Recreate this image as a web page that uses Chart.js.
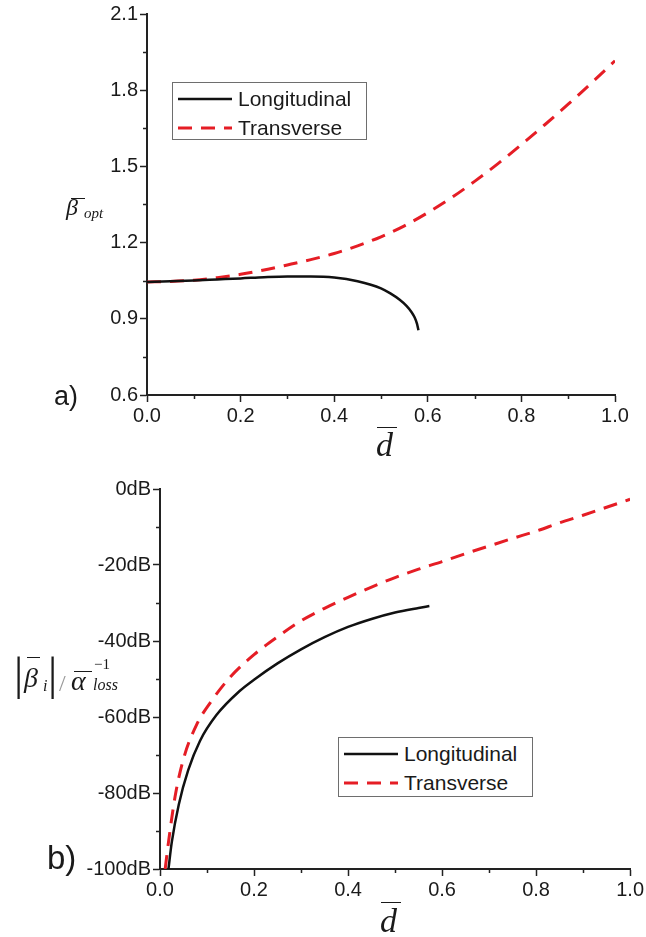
<!DOCTYPE html>
<html>
<head>
<meta charset="utf-8">
<script src="https://cdn.jsdelivr.net/npm/chart.js@4.4.1/dist/chart.umd.min.js"></script>
<style>
  html, body { margin: 0; padding: 0; background: #fff; }
  #page { position: relative; width: 646px; height: 937px; overflow: hidden; font-family: "Liberation Sans", Arial, sans-serif; color: #1a1a1a; }
  canvas { position: absolute; left: 0; }
  .legend { position: absolute; border: 1px solid #6e6e6e; background: #fff; box-sizing: border-box; z-index: 2; }
  .legend .row { position: absolute; left: 0; height: 28px; display: flex; align-items: center; font-size: 21px; white-space: nowrap; }
  .m { position: absolute; font-family: "Liberation Serif", "DejaVu Serif", serif; font-style: italic; line-height: 1; white-space: nowrap; color: #1a1a1a; z-index: 2; }
  .up { font-style: normal; }
  .ovl { position: absolute; height: 0; border-top: 1.6px solid #1a1a1a; z-index: 2; }
  .tag { position: absolute; line-height: 1; color: #1a1a1a; z-index: 2; }
</style>
</head>
<body>
<div id="page">
  <canvas id="chartA" width="646" height="470" style="top:0"></canvas>
  <canvas id="chartB" width="646" height="467" style="top:470px"></canvas>

  <!-- a) y title -->
  <div class="m" style="left:66px;top:195px;font-size:24px">β</div>
  <div class="ovl" style="left:71px;top:198px;width:14px"></div>
  <div class="m" style="left:84px;top:206px;font-size:15px">opt</div>
  <!-- a) x title -->
  <div class="m" style="left:376px;top:428px;font-size:34px">d</div>
  <div class="ovl" style="left:377px;top:427px;width:20px"></div>
  <div class="tag" style="left:54px;top:383px;font-size:27px">a)</div>

  <!-- b) y title -->
  <div class="m up" style="left:14px;top:651px;font-size:46px">|</div>
  <div class="m" style="left:24px;top:664px;font-size:28px">β</div>
  <div class="ovl" style="left:27px;top:657px;width:13px"></div>
  <div class="m" style="left:43px;top:678px;font-size:16px">i</div>
  <div class="m up" style="left:48px;top:651px;font-size:46px">|</div>
  <div class="m up" style="left:59px;top:671px;font-size:24px;color:#999">/</div>
  <div class="m" style="left:71px;top:667px;font-size:28px">α</div>
  <div class="ovl" style="left:74px;top:671px;width:18px"></div>
  <div class="m up" style="left:94px;top:657px;font-size:15px">−1</div>
  <div class="m" style="left:93px;top:677px;font-size:16px">loss</div>
  <!-- b) x title -->
  <div class="m" style="left:380px;top:904px;font-size:34px">d</div>
  <div class="ovl" style="left:381px;top:902px;width:20px"></div>
  <div class="tag" style="left:47px;top:841px;font-size:33px">b)</div>
</div>

<script>
const dTicks = [0, 0.2, 0.4, 0.6, 0.8, 1.0];
const betaTicks = [0.6, 0.9, 1.2, 1.5, 1.8, 2.1];
const dbTicks = [-100, -80, -60, -40, -20, 0];

const seriesNames = ["Longitudinal", "Transverse"];

// a) optimum normalised beta vs d
const aLongD    = [0, 0.05, 0.1, 0.15, 0.2, 0.25, 0.3, 0.35, 0.4, 0.45, 0.5, 0.52, 0.54, 0.555, 0.565, 0.572, 0.577, 0.58];
const aLongBeta = [1.045, 1.048, 1.051, 1.055, 1.059, 1.064, 1.067, 1.067, 1.063, 1.048, 1.02, 1.0, 0.975, 0.95, 0.927, 0.905, 0.88, 0.855];
const aTransD    = [0, 0.05, 0.1, 0.15, 0.2, 0.25, 0.3, 0.35, 0.4, 0.45, 0.5, 0.55, 0.6, 0.65, 0.7, 0.75, 0.8, 0.85, 0.9, 0.95, 1.0];
const aTransBeta = [1.045, 1.047, 1.052, 1.062, 1.075, 1.092, 1.112, 1.133, 1.157, 1.187, 1.223, 1.266, 1.318, 1.376, 1.441, 1.511, 1.586, 1.664, 1.745, 1.829, 1.916];

// b) |beta_i| relative to loss, in dB
const bLongD  = [0.018, 0.025, 0.04, 0.06, 0.085, 0.12, 0.17, 0.2, 0.25, 0.3, 0.35, 0.4, 0.45, 0.5, 0.55, 0.573];
const bLongDb = [-100, -93, -83, -74, -66.3, -59.5, -53.1, -50.2, -45.9, -42.2, -39, -36.3, -34.2, -32.5, -31.3, -30.8];
const bTransD  = [0.011, 0.018, 0.032, 0.05, 0.078, 0.106, 0.15, 0.2, 0.25, 0.3, 0.35, 0.4, 0.45, 0.5, 0.55, 0.6, 0.65, 0.7, 0.75, 0.8, 0.85, 0.9, 0.95, 1.0];
const bTransDb = [-100, -93, -81, -71, -62, -56.4, -49.4, -43.6, -38.9, -34.7, -31.4, -28.5, -25.8, -23.3, -21.1, -19.1, -17.0, -15.0, -13.0, -11.1, -8.9, -6.9, -4.8, -2.7];

const axisColor = "#222";
const tickFont = { family: "Liberation Sans, Arial, sans-serif", size: 20 };

// short ticks half way between the labelled ones
const minorTicks = {
  id: "minorTicks",
  afterDraw(chart) {
    const { ctx, scales: { x, y } } = chart;
    ctx.save();
    ctx.strokeStyle = axisColor;
    ctx.lineWidth = 1.5;
    ctx.beginPath();
    x.ticks.slice(1).forEach((t, i) => {
      const px = Math.round(x.getPixelForValue((t.value + x.ticks[i].value) / 2)) + 0.5;
      ctx.moveTo(px, y.bottom);
      ctx.lineTo(px, y.bottom + 4);
    });
    y.ticks.slice(1).forEach((t, i) => {
      const py = Math.round(y.getPixelForValue((t.value + y.ticks[i].value) / 2)) + 0.5;
      ctx.moveTo(x.left, py);
      ctx.lineTo(x.left - 4, py);
    });
    ctx.stroke();
    ctx.restore();
  }
};

function pts(xs, ys) {
  return xs.map((v, i) => ({ x: v, y: ys[i] }));
}

function axis(ticks, fmt, fit) {
  return {
    type: "linear",
    min: ticks[0],
    max: ticks[ticks.length - 1],
    afterBuildTicks: s => { s.ticks = ticks.map(v => ({ value: v })); },
    afterFit: fit,
    border: { display: true, color: axisColor, width: 2 },
    grid: { drawOnChartArea: false, drawTicks: true, tickLength: 7, tickColor: axisColor, tickWidth: 1.5 },
    ticks: { color: "#1a1a1a", font: tickFont, padding: 2, maxRotation: 0, autoSkip: false, callback: fmt }
  };
}

function makeChart(id, long, trans, yTicks, yFmt, box) {
  return new Chart(document.getElementById(id), {
    type: "line",
    data: {
      datasets: [
        {
          label: seriesNames[0],
          data: long,
          borderColor: "#111",
          borderWidth: 2.5,
          pointRadius: 0,
          cubicInterpolationMode: "monotone"
        },
        {
          label: seriesNames[1],
          data: trans,
          borderColor: "#e51d25",
          borderWidth: 3,
          borderDash: [14, 9],
          pointRadius: 0,
          cubicInterpolationMode: "monotone"
        }
      ]
    },
    options: {
      responsive: false,
      animation: false,
      devicePixelRatio: 1,
      layout: { padding: box.pad },
      plugins: { legend: { display: false }, tooltip: { enabled: false } },
      scales: {
        x: axis(dTicks, v => v.toFixed(1), s => { s.height = box.xh; }),
        y: axis(yTicks, yFmt, s => { s.width = box.yw; })
      }
    },
    plugins: [minorTicks]
  });
}

function addLegend(chart, left, top, h) {
  const page = document.getElementById("page");
  const el = document.createElement("div");
  el.className = "legend";
  el.style.cssText = `left:${left}px;top:${top}px;width:195px;height:${h}px`;
  chart.data.datasets.forEach((ds, i) => {
    const row = document.createElement("div");
    row.className = "row";
    row.style.top = (2 + i * 29) + "px";
    const dash = (ds.borderDash || []).join(" ");
    row.innerHTML = `<svg width="54" height="10" style="margin:0 6px 0 5px"><line x1="0" y1="5" x2="54" y2="5" stroke="${ds.borderColor}" stroke-width="${ds.borderWidth}" stroke-dasharray="${dash}"/></svg><span>${ds.label}</span>`;
    el.appendChild(row);
  });
  page.appendChild(el);
}

const chartA = makeChart("chartA", pts(aLongD, aLongBeta), pts(aTransD, aTransBeta),
  betaTicks, v => v.toFixed(1),
  { pad: { top: 14, right: 31, left: 0, bottom: 0 }, xh: 75, yw: 147 });

const chartB = makeChart("chartB", pts(bLongD, bLongDb), pts(bTransD, bTransDb),
  dbTicks, v => v + "dB",
  { pad: { top: 19, right: 15, left: 0, bottom: 0 }, xh: 68, yw: 160 });

addLegend(chartA, 172, 82, 58);
addLegend(chartB, 338, 737, 60);
</script>
</body>
</html>
